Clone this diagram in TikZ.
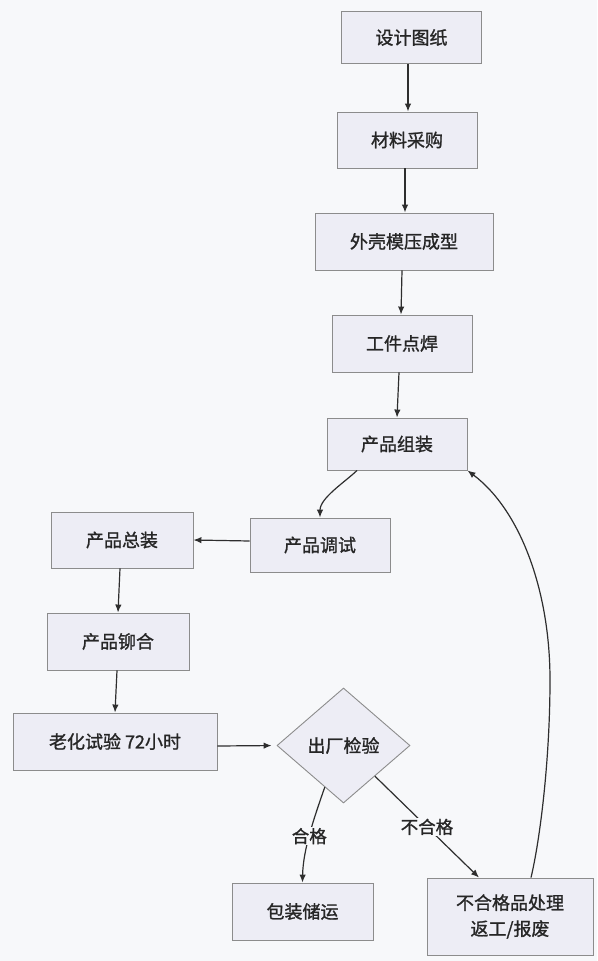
\documentclass[tikz,border=0pt]{standalone}
\usepackage{fontspec}
\newfontfamily\cjk{Noto Sans CJK SC}[FakeBold=1.2]
\usetikzlibrary{arrows.meta,shapes.geometric,calc}
\definecolor{bgc}{HTML}{F7F8FA}
\definecolor{boxfill}{HTML}{EDEDF5}
\definecolor{boxline}{HTML}{8C8C8C}
\definecolor{linec}{HTML}{2E2E2E}
\tikzset{
  procbox/.style={draw=boxline, fill=boxfill, line width=0.9pt, rectangle, inner sep=0pt, font=\cjk\fontsize{18}{26}\selectfont, text=black!85},
  decbox/.style={draw=boxline, fill=boxfill, line width=0.9pt, diamond, inner sep=0pt, font=\cjk\fontsize{18}{26}\selectfont, text=black!85},
  arr/.style={draw=linec, line width=1.2pt, -{Latex[length=8pt,width=6.5pt]}},
  lbl/.style={fill=bgc, inner sep=1pt, font=\cjk\fontsize{17.5}{22}\selectfont, text=black!85}
}
\begin{document}
\begin{tikzpicture}[x=1pt,y=-1pt]
\fill[bgc] (0,0) rectangle (597,961);
\useasboundingbox (0,0) rectangle (597,961);
\node[procbox, minimum width=140pt, minimum height=52pt] (n1) at (411.5,37.5) {设计图纸};
\node[procbox, minimum width=140pt, minimum height=56pt] (n2) at (407,140) {材料采购};
\node[procbox, minimum width=178pt, minimum height=57pt] (n3) at (404,241.5) {外壳模压成型};
\node[procbox, minimum width=140pt, minimum height=57pt] (n4) at (402,343.5) {工件点焊};
\node[procbox, minimum width=140pt, minimum height=52pt] (n5) at (397,444) {产品组装};
\node[procbox, minimum width=140pt, minimum height=54pt] (n6) at (320,545) {产品调试};
\node[procbox, minimum width=142pt, minimum height=56pt] (n7) at (122,540) {产品总装};
\node[procbox, minimum width=142pt, minimum height=57pt] (n8) at (118,641.5) {产品铆合};
\node[procbox, minimum width=204pt, minimum height=57pt] (n9) at (115,741.5) {老化试验 72小时};
\node[decbox, minimum width=133pt, minimum height=115pt] (n10) at (343.5,745.5) {出厂检验};
\node[procbox, minimum width=141pt, minimum height=57pt] (n11) at (302.5,911.5) {包装储运};
\node[procbox, minimum width=166pt, minimum height=77pt, align=center] (n12) at (510,916.5) {不合格品处理\\返工/报废};

\draw[arr] ([xshift=-3.5pt]n1.south) -- ([xshift=1pt]n2.north);
\draw[arr] ([xshift=-2pt]n2.south) -- ([xshift=1pt]n3.north);
\draw[arr] ([xshift=-2pt]n3.south) -- ([xshift=-1pt]n4.north);
\draw[arr] ([xshift=-3pt]n4.south) -- (n5.south |- n5.north);
\draw[arr] ([xshift=-40pt]n5.south) .. controls (345,482) and (320,498) .. (n6.north);
\draw[arr] ([yshift=4pt]n6.west) -- (n7.east);
\draw[arr] ([xshift=-2pt]n7.south) -- (n8.north);
\draw[arr] ([xshift=-1pt]n8.south) -- (n9.north);
\draw[arr, shorten >=5pt] ([yshift=-4.5pt]n9.east) -- (n10.west);
\coordinate (d1) at ($(n10.west)!0.72!(n10.south)$);
\coordinate (d2) at ($(n10.south)!0.47!(n10.east)$);
\draw[arr] (d1) .. controls (314,818) and (303,850) .. (n11.north) node[lbl, pos=0.52] {合格};
\draw[arr] (d2) -- ([xshift=-31pt]n12.north) node[lbl, pos=0.5] {不合格};
\coordinate (via) at (550,680);
\draw[arr] ([xshift=21pt]n12.north) .. controls (540,840) and (550,760) .. (via) .. controls (550,590) and (520,510) .. (n5.south east);
\end{tikzpicture}
\end{document}
